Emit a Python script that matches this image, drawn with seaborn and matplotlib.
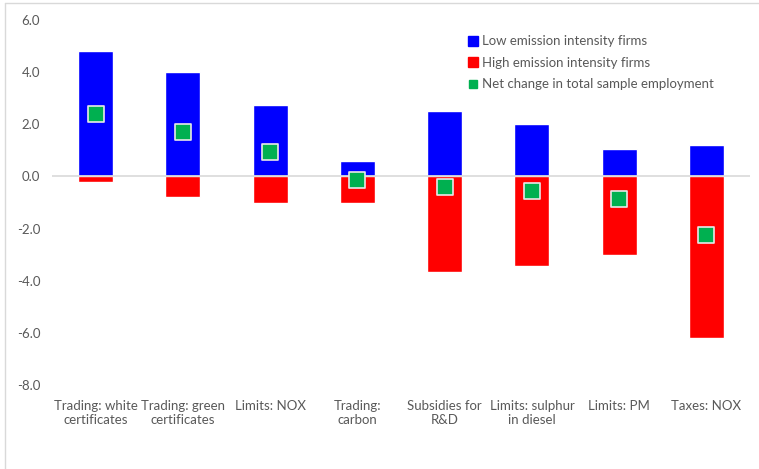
import matplotlib
matplotlib.use("Agg")
import matplotlib.pyplot as plt
from matplotlib.lines import Line2D
import seaborn as sns
import pandas as pd

categories = [
    "Trading: white\ncertificates",
    "Trading: green\ncertificates",
    "Limits: NOX",
    "Trading:\ncarbon",
    "Subsidies for\nR&D",
    "Limits: sulphur\nin diesel",
    "Limits: PM",
    "Taxes: NOX",
]
low_emission = [4.8, 4.0, 2.75, 0.6, 2.5, 2.0, 1.05, 1.2]
high_emission = [-0.2, -0.77, -1.03, -1.0, -3.65, -3.42, -3.0, -6.2]
net_change = [2.4, 1.72, 0.95, -0.15, -0.4, -0.57, -0.88, -2.25]
y_ticks = [6.0, 4.0, 2.0, 0.0, -2.0, -4.0, -6.0, -8.0]

BLUE = "#0000FF"
RED = "#FF0000"
GREEN = "#00B050"
TEXT = "#595959"
FS = 9.5

sns.set_theme(style="white")
plt.rcParams["font.family"] = ["Lato", "DejaVu Sans"]

df = pd.DataFrame({
    "policy": categories * 2,
    "value": low_emission + high_emission,
    "group": ["Low emission intensity firms"] * len(categories)
             + ["High emission intensity firms"] * len(categories),
})
net_df = pd.DataFrame({"policy": categories, "value": net_change})

fig = plt.figure(figsize=(7.59, 4.69), dpi=100)
ax = fig.add_axes([52 / 759, 1 - 385 / 469, 698 / 759, 365 / 469])

sns.barplot(data=df, x="policy", y="value", hue="group", order=categories,
            palette=[BLUE, RED], dodge=False, width=0.4, saturation=1,
            legend=False, ax=ax)
sns.stripplot(data=net_df, x="policy", y="value", order=categories,
              jitter=False, marker="s", size=12, color=GREEN,
              edgecolor="#E8E8E8", linewidth=1.2, ax=ax, zorder=5)

ax.axhline(0, color="#D9D9D9", linewidth=1.2, zorder=1)
ax.set_ylim(-8, 6)
ax.set_xlim(-0.5, len(categories) - 0.5)
ax.set_yticks(y_ticks)
ax.set_yticklabels([f"{t:.1f}" for t in y_ticks])
ax.set_xlabel("")
ax.set_ylabel("")
for s in ax.spines.values():
    s.set_visible(False)
ax.tick_params(axis="both", length=0, colors=TEXT, labelsize=FS)
ax.tick_params(axis="y", pad=8.5)
ax.tick_params(axis="x", pad=11)

handles = [
    Line2D([], [], linestyle="none", marker="s", markersize=7.5, color=BLUE),
    Line2D([], [], linestyle="none", marker="s", markersize=7.5, color=RED),
    Line2D([], [], linestyle="none", marker="s", markersize=5.5, color=GREEN),
]
labels = ["Low emission intensity firms", "High emission intensity firms",
          "Net change in total sample employment"]
leg = ax.legend(handles, labels, loc="upper left",
                bbox_to_anchor=((464 - 52) / 698, (385 - 30) / 365),
                frameon=False, fontsize=FS, handlelength=0.6,
                handletextpad=0.35, labelspacing=0.72, borderaxespad=0)
for t in leg.get_texts():
    t.set_color(TEXT)

# Light chart-area border on the left and top edges
border = dict(color="#D9D9D9", linewidth=1, transform=fig.transFigure)
fig.add_artist(Line2D([5 / 759, 5 / 759], [0, 1 - 3 / 469], **border))
fig.add_artist(Line2D([5 / 759, 1], [1 - 3 / 469, 1 - 3 / 469], **border))

fig.savefig("out.png", dpi=100)
